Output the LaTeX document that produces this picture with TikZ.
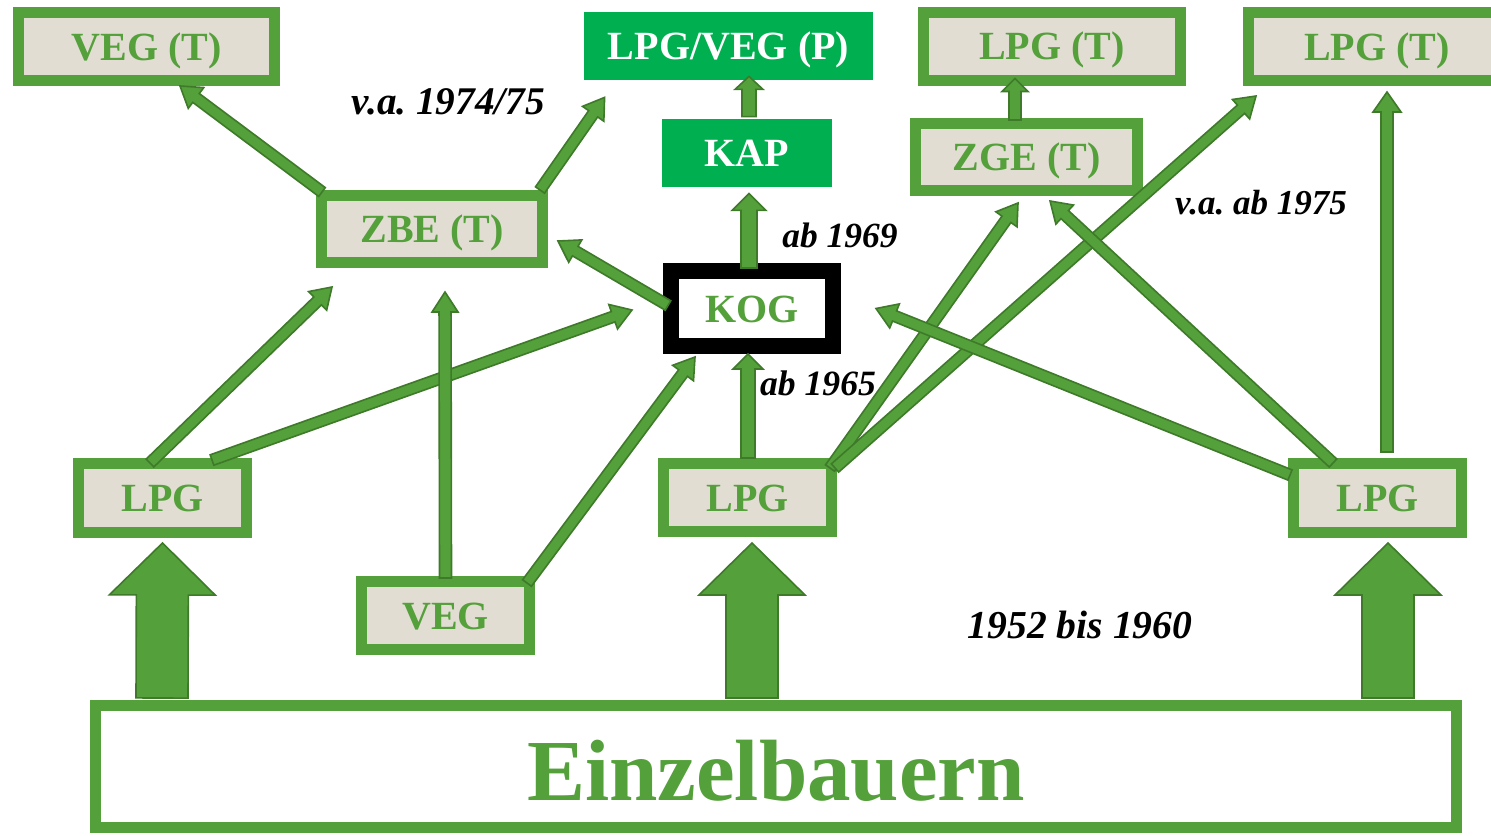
\documentclass[tikz,border=0pt]{standalone}
\usepackage{fontspec}
\setmainfont{Liberation Serif}
\usetikzlibrary{calc}
\definecolor{gbox}{HTML}{54A03A}
\definecolor{gdark}{HTML}{3E7A2A}
\definecolor{beige}{HTML}{E2DDD3}
\definecolor{gsolid}{HTML}{00B050}
\newcommand{\blkarrow}[5]{%
  \coordinate (ba1) at #1; \coordinate (ba2) at #2;
  \coordinate (bah) at ($(ba2)!{#5*0.5pt}!(ba1)$);
  \draw[blk] ($(ba1)!{#3*0.25pt}!-90:(ba2)$) -- ($(bah)!{#3*0.25pt}!-90:(ba2)$)
    -- ($(bah)!{#4*0.25pt}!-90:(ba2)$) -- (ba2) -- ($(bah)!{#4*0.25pt}!90:(ba2)$)
    -- ($(bah)!{#3*0.25pt}!90:(ba2)$) -- ($(ba1)!{#3*0.25pt}!90:(ba2)$) -- cycle;}
\begin{document}
\begin{tikzpicture}[x=0.5pt,y=-0.5pt,
  blk/.style={fill=gbox,draw=gdark,line width=0.8pt,line join=miter},
  gbx/.style 2 args={draw=gbox,line width=5.5pt,fill=beige,text=gbox,inner sep=0pt,
    font=\fontsize{20}{24}\selectfont\bfseries,text height=13.8pt,text depth=0pt,
    minimum width={(#1-11)*0.5pt},minimum height={(#2-11)*0.5pt}},
  sbx/.style 2 args={fill=gsolid,text=white,inner sep=0pt,
    font=\fontsize{20}{24}\selectfont\bfseries,text height=13.8pt,text depth=0pt,
    minimum width={#1*0.5pt},minimum height={#2*0.5pt}},
  lbl/.style={font=\fontsize{#1}{22}\selectfont\bfseries\itshape\frenchspacing,inner sep=0pt},
  lbl/.default=18]
\useasboundingbox (0,0) rectangle (1491,835);
\clip (0,0) rectangle (1491,835);
% boxes
\node[gbx={267}{79}] (vegt) at (146.5,46.5) {VEG (T)};
\node[sbx={289}{68}] (lpgvegp) at (728.5,46) {LPG/VEG (P)};
\node[sbx={170}{68}] (kap) at (747,153) {KAP};
\node[gbx={268}{79}] (lpgt1) at (1052,46) {LPG (T)};
\node[gbx={268}{79}] (lpgt2) at (1377,46.5) {LPG (T)};
\node[gbx={232}{78}] (zbe) at (432,229) {ZBE (T)};
\node[draw=black,line width=8pt,fill=white,text=gbox,inner sep=0pt,
  font=\fontsize{20}{24}\selectfont\bfseries,text height=13.8pt,text depth=0pt,
  minimum width=81pt,minimum height=37.5pt] (kog) at (752,308.5) {KOG};
\node[gbx={233}{78}] (zge) at (1026.5,157) {ZGE (T)};
\node[gbx={179}{80}] (lpg1) at (162.5,498) {LPG};
\node[gbx={179}{79}] (veg) at (445.5,615.5) {VEG};
\node[gbx={179}{79}] (lpg2) at (747.5,497.5) {LPG};
\node[gbx={179}{80}] (lpg3) at (1377.5,498) {LPG};
\node[draw=gbox,line width=5.5pt,fill=white,text=gbox,inner sep=0pt,
  font=\fontsize{43.5}{50}\selectfont\bfseries,text height=33.5pt,text depth=0pt,
  minimum width=680.5pt,minimum height=61pt] (einz) at (776,766.5) {Einzelbauern};
% labels
\node[lbl=19.6] (l1) at (448,102) {v.a. 1974/75};
\node[lbl=17.7] (l2) at (840,235) {ab 1969};
\node[lbl=17.8] (l3) at (818,383) {ab 1965};
\node[lbl=17.5] (l4) at (1261,203) {v.a. ab 1975};
\node[lbl=19.8] (l5) at (1080,625) {1952 bis 1960};
% thin arrows
\blkarrow{($(zbe.north west)+(6,2)$)}{($(vegt.south)+(33.5,0)$)}{11}{26}{20}
\blkarrow{($(zbe.north east)+(-8,0)$)}{($(lpgvegp.south west)+(21,17)$)}{11}{26}{20}
\blkarrow{($(kog.west)+(5,-3)$)}{($(zbe.east)+(10,12)$)}{11}{26}{20}
\blkarrow{($(lpg1.north)+(-12.5,5)$)}{($(zbe.south west)+(16,19)$)}{11}{26}{20}
\blkarrow{($(lpg1.north)+(49.5,2)$)}{($(kog.west)+(-31,1.5)$)}{11}{26}{20}
\blkarrow{($(veg.north)+(0,2)$)}{($(zbe.south)+(13,24)$)}{12}{26}{20}
\blkarrow{($(veg.north east)+(-8,7)$)}{($(kog.south west)+(32,3)$)}{11}{26}{20}
\blkarrow{($(lpg2.north east)+(-7,10)$)}{($(zge.south)+(-8.5,7)$)}{11}{26}{20}
\blkarrow{($(lpg2.north east)+(-2,10)$)}{($(lpgt2.south west)+(13,10)$)}{11}{26}{20}
\blkarrow{($(lpg3.north west)+(2,17)$)}{($(kog.east)+(35,0)$)}{11}{26}{20}
\blkarrow{($(lpg3.north west)+(45,5)$)}{($(zge.south)+(23.5,5)$)}{11}{26}{20}
\blkarrow{($(lpg3.north)+(9.5,-6)$)}{($(lpgt2.south)+(10,6)$)}{12}{28}{20}
% short vertical arrows
\blkarrow{($(kog.north)+(-3,5)$)}{($(kap.south)+(2,6)$)}{16}{34}{17}
\blkarrow{($(kap.north)+(2,-2)$)}{($(lpgvegp.south)+(20.5,-4)$)}{14}{28}{13}
\blkarrow{($(zge.north)+(-11.5,2)$)}{($(lpgt1.south)+(-37,-7)$)}{12}{26}{13}
\blkarrow{($(lpg2.north)+(0.5,0)$)}{($(kog.south)+(-4,0)$)}{14}{30}{15}
% big arrows
\blkarrow{($(einz.north west)+(72,-2)$)}{($(lpg1.south)+(0,5)$)}{52}{106}{52}
\blkarrow{($(einz.north west)+(662,-2)$)}{($(lpg2.south)+(4.5,6)$)}{52}{106}{52}
\blkarrow{($(einz.north west)+(1298,-2)$)}{($(lpg3.south)+(10.5,5)$)}{52}{106}{52}
\end{tikzpicture}
\end{document}
